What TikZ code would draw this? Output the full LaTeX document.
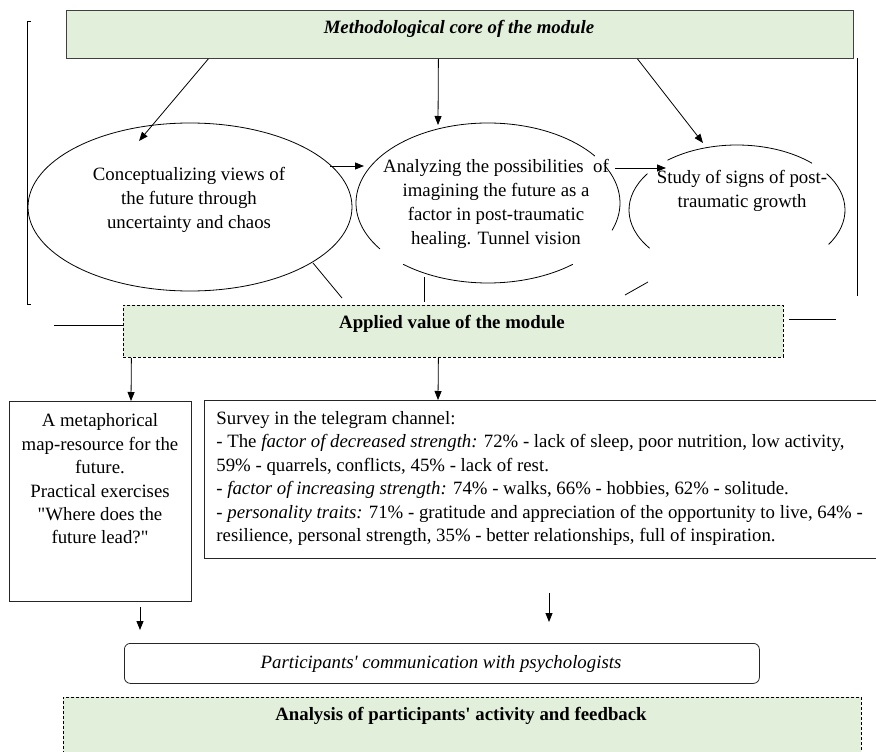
\documentclass[tikz,border=0pt]{standalone}
\usepackage{fontspec}
\setmainfont{Liberation Serif}[Ligatures=TeXOff]
\usetikzlibrary{arrows.meta,shapes.geometric}
\definecolor{cgreen}{RGB}{226,239,218}
\definecolor{cedge}{RGB}{64,64,64}
\newcommand\dfont{\fontsize{18.8}{24}\selectfont}
\newcommand\sfontsurv{\fontsize{18.8}{23.4}\selectfont}
\begin{document}
\begin{tikzpicture}[x=1pt,y=-1pt,line width=0.8pt,
  greenbox/.style={draw=cedge,fill=cgreen,inner sep=0pt},
  dashbox/.style={draw=black,fill=cgreen,dash pattern=on 3pt off 2pt,inner sep=0pt},
  plainbox/.style={draw=black!85,inner sep=0pt},
  label/.style={inner sep=0pt,font=\dfont},
  arr/.style={-{Triangle[length=9pt,width=7pt]}}]
\clip (0,0) rectangle (876,752);
\fill[white] (0,0) rectangle (876,752);

% brackets at the sides
\draw (31,21) -- (27,21) -- (27,304) -- (31,304);
\draw (857,58) -- (857,296);

% methodological core
\node[greenbox,minimum width=787pt,minimum height=48pt,anchor=north west] (core) at (66,10) {};
\node[label,font=\dfont\bfseries\itshape] (coret) at (459,29) {Methodological core of the module};

% first ellipse
\node[draw,ellipse,minimum width=324pt,minimum height=168pt,inner sep=0pt] (e1) at (190,207) {};
\node[label,align=center] (e1t) at (189,200) {Conceptualizing views of\\the future through\\uncertainty and chaos};

% second ellipse (broken outline)
\coordinate (e2) at (488,203);
\draw ([shift={(-36:132 and 80)}]e2) arc[start angle=-36,end angle=-215,x radius=132,y radius=80];
\draw ([shift={(130:132 and 80)}]e2) arc[start angle=130,end angle=50,x radius=132,y radius=80];
\draw ([shift={(20:132 and 80)}]e2) arc[start angle=20,end angle=-28,x radius=132,y radius=80];
\node[label,align=center] (e2t) at (496,204) {Analyzing the possibilities\ \ of\\imagining\ the future as a\\factor in post-traumatic\\healing. Tunnel vision};

% third ellipse (broken outline)
\coordinate (e3) at (737,210);
\draw ([shift={(-46:108 and 65)}]e3) arc[start angle=-46,end angle=-130,x radius=108,y radius=65];
\draw ([shift={(-146:108 and 65)}]e3) arc[start angle=-146,end angle=-216,x radius=108,y radius=65];
\draw ([shift={(32:108 and 65)}]e3) arc[start angle=32,end angle=-34,x radius=108,y radius=65];
\node[label,align=center] (e3t) at (742,191) {Study of signs of post-\\traumatic\ growth};

% arrows from the core
\coordinate (t1) at (139,141);
\coordinate (t2) at (438,125);
\coordinate (t3) at (703,143);
\draw[arr] ([xshift=-251.5pt]core.south) -- (t1);
\draw[arr] ([xshift=-21.5pt]core.south) -- (t2);
\draw[arr] ([xshift=177.5pt]core.south) -- (t3);

% arrows between ellipses
\coordinate (a1s) at (330,166);
\coordinate (a1e) at (364,166);
\coordinate (a2s) at (615,168);
\coordinate (a2e) at (666,168);
\draw[arr] (a1s) -- (a1e);
\draw[arr] (a2s) -- (a2e);

% applied value
\node[dashbox,minimum width=660pt,minimum height=52pt,anchor=north west] (app) at (123,305) {};
\node[label,font=\dfont\bfseries] (appt) at (452,324) {Applied value of the module};

% short strokes from the ellipses toward the applied box
\coordinate (l1a) at (313,263); \coordinate (l1b) at (342,298);
\coordinate (l2a) at (424,277); \coordinate (l2b) at (424,302);
\coordinate (l3a) at (648,282); \coordinate (l3b) at (625,295);
\draw (l1a) -- (l1b);
\draw (l2a) -- (l2b);
\draw (l3a) -- (l3b);
\coordinate (sl) at (54,325);
\coordinate (sr1) at (789,319); \coordinate (sr2) at (836,319);
\draw (sl) -- (app.west |- sl);
\draw (sr1) -- (sr2);

% metaphorical map box
\node[plainbox,minimum width=182pt,minimum height=200pt,anchor=north west] (map) at (9,401) {};
\node[label,align=center,font=\fontsize{18.8}{23.4}\selectfont] (mapt) at (100,479) {A metaphorical\\map-resource\ for the\\future.\\Practical exercises\\"Where does the\\future lead?"};

% survey box (its right side runs past the page edge)
\node[plainbox,minimum width=690pt,minimum height=158pt,anchor=north west] (surv) at (204,400) {};
\node[label,align=left,anchor=north west,font=\sfontsurv] (survt) at (216,411) {Survey in the telegram channel:\\
- The \textit{factor of decreased strength:} 72\% - lack of sleep, poor nutrition, low activity,\\
59\% - quarrels, conflicts, 45\% - lack of rest.\\
- \textit{factor of increasing strength:} 74\% - walks, 66\% - hobbies, 62\% - solitude.\\
- \textit{personality traits:} 71\% - gratitude and appreciation of the opportunity to live, 64\% -\\
resilience, personal strength, 35\% - better relationships, full of inspiration.};

\coordinate (m1) at (131,0);
\coordinate (m2) at (438,0);
\draw[arr] ([xshift=-322pt]app.south) -- (map.north -| m1);
\draw[arr] ([xshift=-15pt]app.south) -- (surv.north -| m2);

% communication box
\node[draw=black!85,rounded corners=6pt,minimum width=635pt,minimum height=40pt,anchor=north west,inner sep=0pt] (comm) at (124,643) {};
\node[label,font=\dfont\itshape] (commt) at (441,664) {Participants' communication with psychologists};

\coordinate (d1s) at (140,607); \coordinate (d1e) at (140,630);
\coordinate (d2s) at (549,593); \coordinate (d2e) at (549,622);
\draw[arr] (d1s) -- (d1e);
\draw[arr] (d2s) -- (d2e);

% analysis box
\node[dashbox,minimum width=798pt,minimum height=80pt,anchor=north west] (ana) at (63,697) {};
\node[label,font=\dfont\bfseries] (anat) at (461,716) {Analysis of participants' activity and feedback};
\end{tikzpicture}
\end{document}
